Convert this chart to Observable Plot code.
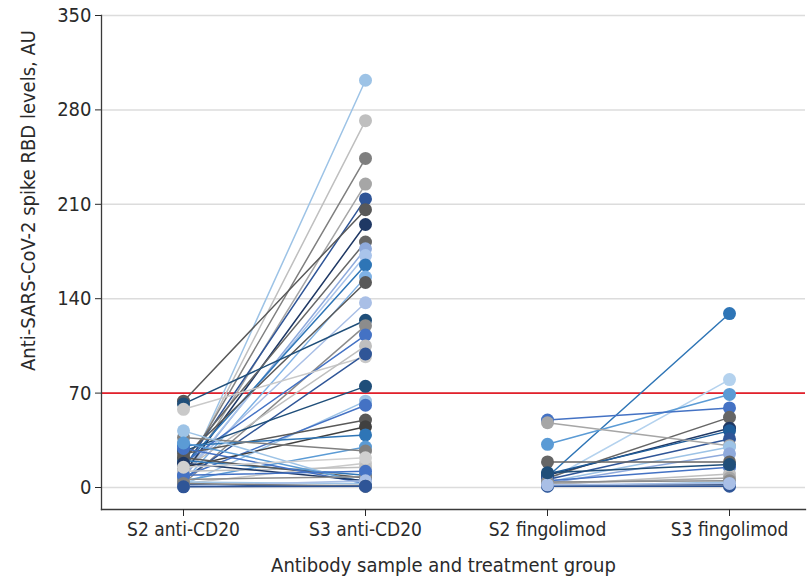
<!DOCTYPE html>
<html><head><meta charset="utf-8">
<script src="https://cdn.jsdelivr.net/npm/d3@7"></script>
<script src="https://cdn.jsdelivr.net/npm/@observablehq/plot@0.6"></script>
<style>
body{margin:0;background:#fff;}
#chart svg{font-family:"DejaVu Sans Condensed","Liberation Sans Narrow",sans-serif;}
</style></head><body><div id="chart"></div>
<script>
const categories = ["S2 anti-CD20","S3 anti-CD20","S2 fingolimod","S3 fingolimod"];
const yTicks = [0,70,140,210,280,350];
const threshold = 70;
const yTitle = "Anti-SARS-CoV-2 spike RBD levels, AU";
const xTitle = "Antibody sample and treatment group";

// anti-CD20 group: S2 and S3 values per patient
const antiCD20S2 = [5,8,12,6,14,64,10,20,7,9,16,4,22,11,62,3,18,58,13,6,27,2,8,25,15,31,5,37,3,12,20,22,42,29,33,18,1,2,4,6,9,1,3,0.5,15];
const antiCD20S3 = [302,272,244,225,214,206,195,182,177,172,165,156,152,137,124,120,113,97,105,99,75,64,61,50,45,39,30,27,18,15,9,7,2,3,4,5,2,1,3,8,12,5,1,1,22];
const antiCD20Colors = ["#9dc3e6","#bfbfbf","#7f7f7f","#a6a6a6","#2f5597","#595959","#1f3864","#666666","#8faadc","#a9c4eb","#2e75b6","#7fb2e5","#595959","#a9bfe6","#1f4e79","#8c8c8c","#4472c4","#c9c9c9","#bfbfbf","#2f5597","#1f4e79","#9dc3e6","#4472c4","#595959","#404040","#2e75b6","#5b9bd5","#808080","#c9c9c9","#bfbfbf","#2e75b6","#595959","#9dc3e6","#4472c4","#5b9bd5","#1f3864","#c9c9c9","#2f5597","#9dc3e6","#8c8c8c","#4472c4","#a9bfe6","#7f7f7f","#2f5597","#d0d0d0"];

// fingolimod group: S2 and S3 values per patient
const fingolimodS2 = [8,5,32,50,7,9,10,6,48,4,3,19,5,2,3,1,2,1,4,2,11];
const fingolimodS3 = [129,80,69,59,52,44,42,36,31,30,25,19,15,10,7,4,2,1,5,3,17];
const fingolimodColors = ["#2e75b6","#b4d2ee","#5b9bd5","#4472c4","#666666","#1f3864","#1f5c99","#2f5597","#a6a6a6","#9dc3e6","#8faadc","#666666","#4472c4","#bfbfbf","#a6a6a6","#9dc3e6","#1f3864","#2f5597","#8c8c8c","#a9bfe6","#1f4e79"];

const rows = [];
antiCD20S2.forEach((v, i) => {
  rows.push({id: "a" + i, cat: categories[0], value: v, color: antiCD20Colors[i]});
  rows.push({id: "a" + i, cat: categories[1], value: antiCD20S3[i], color: antiCD20Colors[i]});
});
fingolimodS2.forEach((v, i) => {
  rows.push({id: "f" + i, cat: categories[2], value: v, color: fingolimodColors[i]});
  rows.push({id: "f" + i, cat: categories[3], value: fingolimodS3[i], color: fingolimodColors[i]});
});

const chart = Plot.plot({
  width: 808, height: 576,
  marginLeft: 101, marginRight: 3, marginTop: 15, marginBottom: 67,
  style: {fontSize: "19px", fontFamily: '"DejaVu Sans Condensed","Liberation Sans Narrow",sans-serif', color: "#2a2a2a", background: "#fff"},
  x: {domain: categories, type: "point", range: [182, 729], padding: 0, label: null},
  y: {domain: [0, 350], insetBottom: 22, ticks: yTicks, label: null},
  marks: [
    Plot.gridY(yTicks, {stroke: "#dcdcdc", strokeOpacity: 1, strokeWidth: 1.5}),
    Plot.ruleY([threshold], {stroke: "#e3202b", strokeWidth: 1.6}),
    Plot.frame({anchor: "left", stroke: "#3a3a3a", strokeWidth: 1.3}),
    Plot.frame({anchor: "bottom", stroke: "#3a3a3a", strokeWidth: 1.3}),
    Plot.axisY(yTicks, {tickSize: 6, tickPadding: 4, label: null, fontSize: 20}),
    Plot.axisX({tickSize: 7, tickPadding: 6, label: null, fontSize: 19}),
    Plot.line(rows, {x: "cat", y: "value", z: "id", stroke: "color", strokeWidth: 1.5}),
    Plot.dot(rows, {x: "cat", y: "value", fill: "color", r: 6.5}),
    Plot.text([yTitle], {frameAnchor: "left", rotate: -90, textAnchor: "middle", lineAnchor: "middle", dx: -73, dy: -62, fontSize: 20, fill: "#2a2a2a"}),
    Plot.text([xTitle], {frameAnchor: "bottom", textAnchor: "middle", lineAnchor: "middle", dx: -10, dy: 56, fontSize: 20, fill: "#2a2a2a"})
  ]
});
document.getElementById("chart").append(chart);
</script></body></html>
